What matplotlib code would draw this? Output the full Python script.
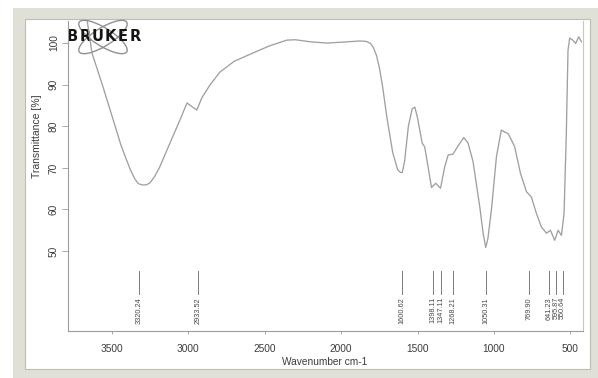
import matplotlib
matplotlib.use("Agg")
import matplotlib.pyplot as plt
from matplotlib.patches import Rectangle, Ellipse

plt.rcParams['font.family'] = ['Liberation Sans', 'DejaVu Sans']

# IR spectrum, transmittance (%) vs wavenumber (cm-1)
wavenumber = [3665, 3629, 3560, 3490, 3440, 3403, 3375, 3348, 3325, 3300,
              3275, 3250, 3220, 3185, 3120, 3054, 3008, 2944, 2911, 2860,
              2793, 2700, 2577, 2470, 2355, 2300, 2200, 2094, 2000, 1878,
              1835, 1808, 1790, 1770, 1748, 1728, 1700, 1662, 1630, 1612,
              1600, 1585, 1560, 1535, 1518, 1500, 1470, 1453, 1430, 1409,
              1381, 1350, 1322, 1300, 1268, 1240, 1198, 1170, 1137, 1093,
              1070, 1054, 1040, 1017, 984, 952, 930, 909, 890, 865,
              827, 788, 756, 723, 690, 657, 631, 603, 581, 559,
              542, 527, 516, 505, 484, 466, 446, 428]
transmittance = [106.5, 97.6, 89.8, 81.5, 75.5, 71.9, 69.3, 67.3, 66.2, 65.9,
                 65.9, 66.4, 67.9, 70.3, 75.9, 81.5, 85.6, 83.9, 86.8, 89.8,
                 93.0, 95.6, 97.6, 99.3, 100.7, 100.8, 100.3, 100.0, 100.2, 100.5,
                 100.4, 99.9, 99.0, 97.2, 93.8, 89.4, 82.0, 73.6, 69.6, 68.9,
                 68.9, 71.5, 80.0, 84.2, 84.6, 82.0, 76.0, 75.0, 70.0, 65.3,
                 66.3, 65.1, 70.3, 73.1, 73.3, 75.0, 77.3, 76.0, 71.5, 60.6,
                 54.0, 50.9, 53.0, 59.9, 72.7, 79.1, 78.6, 78.3, 77.0, 75.1,
                 68.7, 64.3, 63.0, 59.1, 55.8, 54.3, 55.0, 52.6, 55.0, 53.8,
                 59.0, 78.4, 98.3, 101.2, 100.7, 99.9, 101.5, 100.3]

peak_positions = [3320.24, 2933.52, 1600.62, 1398.11, 1347.11, 1268.21,
                  1050.31, 769.90, 641.23, 595.87, 550.64]
peak_labels = ['3320.24', '2933.52', '1600.62', '1398.11', '1347.11', '1268.21',
               '1050.31', '769.90', '641.23', '595.87', '550.64']

x_ticks = [3500, 3000, 2500, 2000, 1500, 1000, 500]
y_ticks = [50, 60, 70, 80, 90, 100]

W, H = 598, 378
fig = plt.figure(figsize=(W / 100, H / 100), dpi=100)

# background layer in pixel units: frame + logo
bg = fig.add_axes([0, 0, 1, 1], zorder=0)
bg.set_xlim(0, W)
bg.set_ylim(H, 0)
bg.axis('off')
bg.add_patch(Rectangle((13, 8), W - 13, H - 8, facecolor='#e1e0d7', edgecolor='none'))
bg.add_patch(Rectangle((25, 19), 565, 350, facecolor='white', edgecolor='#bdbdb5', lw=0.8))

for ang in (32, -32):
    bg.add_patch(Ellipse((103, 37), 56, 18, angle=ang, fill=False,
                         edgecolor='#909090', lw=1.0))
for i, ch in enumerate("BRUKER"):
    bg.text(72.5 + i * 12.6, 36.5, ch, fontsize=10.5, fontweight='heavy',
            color='#151515', ha='center', va='center', family='DejaVu Sans')

# spectrum axes
L, R, T, B = 68, 583, 21, 331
ax = fig.add_axes([L / W, 1 - B / H, (R - L) / W, (B - T) / H], zorder=1)
ax.patch.set_alpha(0)
ax.plot(wavenumber, transmittance, color='#a0a0a0', lw=0.95)
ax.set_xlim(3786, 418)
ax.set_ylim(30.8, 105.3)

ax.spines['top'].set_visible(False)
for s in ('left', 'bottom', 'right'):
    ax.spines[s].set_color('#9c9c9c')
    ax.spines[s].set_linewidth(0.8)
ax.spines['right'].set_color('#c8c8c8')

ax.set_xticks(x_ticks)
ax.set_yticks(y_ticks)
ax.tick_params(axis='x', length=2.5, width=0.6, color='#9c9c9c', pad=6.5,
               labelsize=7.3, labelcolor='#3c3c3c')
ax.tick_params(axis='y', length=4, width=0.6, color='#9c9c9c', pad=2.5,
               labelsize=7.3, labelcolor='#3c3c3c', labelrotation=90)
for lbl in ax.get_yticklabels():
    lbl.set_va('center')

fig.text(325 / W, 1 - 362 / H, 'Wavenumber cm-1', fontsize=7.3, color='#3c3c3c',
         ha='center', va='center')
fig.text(37 / W, 1 - 136 / H, 'Transmittance [%]', fontsize=7.5, color='#3c3c3c',
         ha='center', va='center', rotation=90)

# peak markers
for pos, lab in zip(peak_positions, peak_labels):
    ax.plot([pos, pos], [39.8, 45.3], color='#7a7a7a', lw=0.7)
    ax.text(pos, 39.0, lab, rotation=90, fontsize=5.3, color='#4a4a4a',
            ha='center', va='top')

fig.savefig('out.png', dpi=100)
